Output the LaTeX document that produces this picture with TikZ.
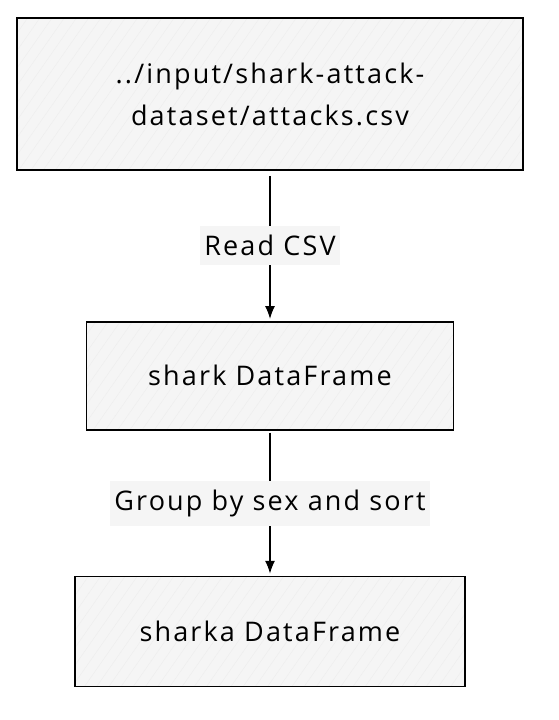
\documentclass[tikz,border=0pt]{standalone}
\usepackage{fontspec}
\setmainfont{Open Sans}[LetterSpace=8]
\usepackage{tikz}
\usetikzlibrary{positioning,arrows.meta,patterns.meta}
\definecolor{boxfill}{HTML}{F5F5F5}

\begin{document}
\begin{tikzpicture}[
  x=1pt, y=-1pt,
  font=\fontsize{27}{42}\selectfont,
  box/.style={draw, line width=1.7pt, align=center, inner sep=0pt,
              preaction={fill=boxfill},
              preaction={pattern={Lines[angle=55, distance=10pt, line width=0.4pt]},
                         pattern color=black!7}},
  lbl/.style={fill=boxfill, inner xsep=4pt, inner ysep=9pt},
  arr/.style={-{Latex[length=4.5mm, width=3.5mm]}, line width=1.1pt},
  ]
  \useasboundingbox (0,0) rectangle (558,720);
  \node[box, minimum width=506pt, minimum height=152pt] (csv) at (270,94)
    {../input/shark-attack-\\dataset/attacks.csv};
  \node[box, minimum width=367pt, minimum height=108pt, below=150pt of csv] (shark) {shark DataFrame};
  \node[box, minimum width=390pt, minimum height=110pt, below=145pt of shark] (sharka) {sharka DataFrame};

  \draw[arr, shorten <=5pt, shorten >=2pt] (csv) -- node[lbl] (readlbl) {Read CSV} (shark);
  \draw[arr, shorten <=2pt, shorten >=2pt] (shark) -- node[lbl] (grouplbl) {Group by sex and sort} (sharka);
\end{tikzpicture}
\end{document}
